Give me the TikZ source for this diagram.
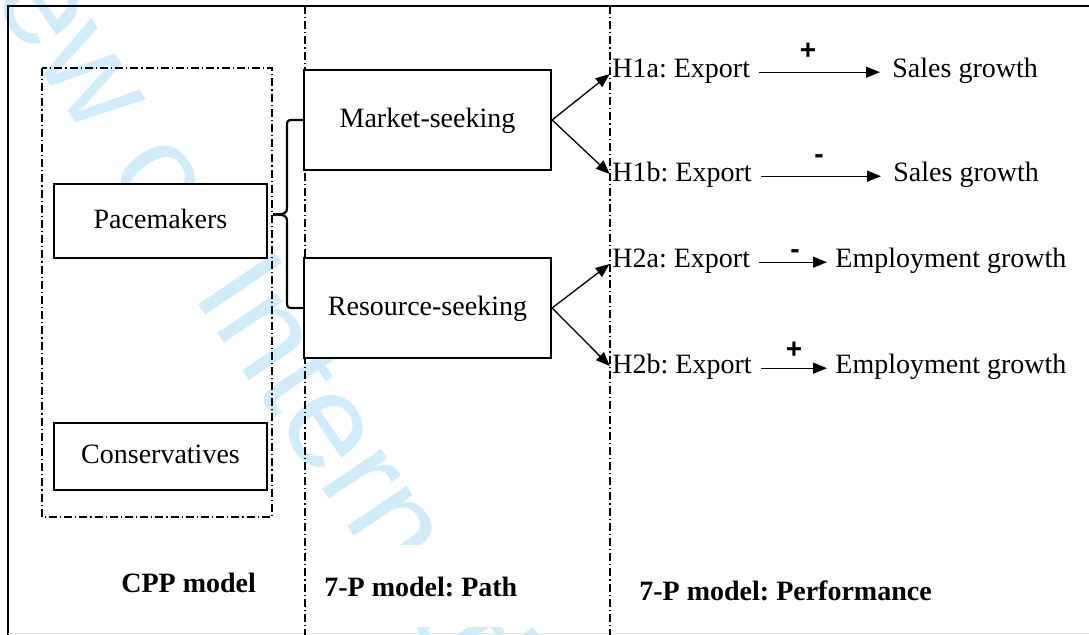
\documentclass[tikz,border=0pt]{standalone}
\usepackage{fontspec}
\setmainfont{Liberation Serif}
\newfontfamily\signfont{Liberation Sans}
\usetikzlibrary{arrows.meta}
\definecolor{wmark}{RGB}{206,236,250}
\frenchspacing
\begin{document}
\frenchspacing
\begin{tikzpicture}[x=0.5pt,y=-0.5pt,
  box/.style={draw, line width=1.1pt, fill=white, inner sep=0pt,
    font=\fontsize{14}{16}\selectfont, text height=0.74em, text depth=0pt},
  lbl/.style={inner sep=0pt, font=\fontsize{14}{16}\selectfont,
    text height=0.8em, text depth=0.22em, anchor=base west},
  sgn/.style={inner sep=0pt, font=\signfont\bfseries\fontsize{14}{16}\selectfont, anchor=base},
  ttl/.style={inner ysep=0pt, inner xsep=7pt, fill=white, text height=26pt, text depth=15pt,
    font=\bfseries\fontsize{14}{16}\selectfont, anchor=base west},
  sep/.style={line width=0.6pt, dash pattern=on 4pt off 1.5pt on 0.6pt off 1.5pt},
  arr/.style={-{Triangle[length=7pt,width=5.5pt]}, line width=0.65pt},
  bracestyle/.style={line width=1.1pt, line join=round},
]
\useasboundingbox (0,0) rectangle (1089,635);
\clip (0,0) rectangle (1089,635);
% watermark
\node[anchor=base west, inner sep=0pt, rotate=-56, text=wmark,
  font=\signfont\fontsize{67.5}{70}\selectfont] (wm) at (-161,-228)
  {Review of International Business and Strategy};
% column titles (white text boxes)
\node[ttl, xshift=-7pt] (t1) at (121,593) {CPP model};
\node[ttl, xshift=-7pt] (t2) at (324,597) {7-P model: Path};
\node[ttl, xshift=-7pt] (t3) at (639,601) {7-P model: Performance};
% frame
\draw[line width=1.2pt] (8,640) -- (8,6) -- (1095,6);
\draw[black!10, line width=0.5pt] (8,634) -- (1089,634);
% column separators
\coordinate (s1t) at (305,6);  \coordinate (s1b) at (305,635);
\coordinate (s2t) at (610,6);  \coordinate (s2b) at (610,635);
\draw[sep] (s1t) -- (s1b);
\draw[sep] (s2t) -- (s2b);
% CPP group
\draw[sep] (42,68) rectangle (272,517);
\node[box, minimum width=106.5pt, minimum height=37pt] (pm) at (160.5,221) {Pacemakers};
\node[box, minimum width=106.5pt, minimum height=33.5pt] (cons) at (160.5,456.5) {Conservatives};
% path boxes
\node[box, minimum width=123.5pt, minimum height=50pt] (ms) at (427.5,120) {Market-seeking};
\node[box, minimum width=123.5pt, minimum height=50pt] (rs) at (427.5,308) {Resource-seeking};
% brace
\coordinate (tip) at (273,214.5);
\draw[bracestyle] (ms.west) -- (292,120) .. controls (288,120) and (287,121) .. (287,125)
  -- (287,208) .. controls (287,213) and (285,214.5) .. (tip);
\draw[bracestyle] (rs.west) -- (292,308) .. controls (288,308) and (287,307) .. (287,303)
  -- (287,221) .. controls (287,216) and (285,214.5) .. (tip);
% hypotheses
\node[lbl] (h1a) at (612,78) {H1a: Export};
\node[lbl] (h1b) at (612,182) {H1b: Export};
\node[lbl] (h2a) at (612,268) {H2a: Export};
\node[lbl] (h2b) at (612,374) {H2b: Export};
\node[lbl] (o1a) at (892,78) {Sales growth};
\node[lbl] (o1b) at (893,182) {Sales growth};
\node[lbl] (o2a) at (835,268) {Employment growth};
\node[lbl] (o2b) at (835,374) {Employment growth};
\node[sgn] (p1a) at (808,60) {+};
\node[sgn] (p1b) at (819,164) {-};
\node[sgn] (p2a) at (795,259) {-};
\node[sgn] (p2b) at (794,359) {+};
\draw[arr, shorten <=4.5pt, shorten >=6pt] (h1a.east) -- (h1a.east -| o1a.west);
\draw[arr, shorten <=4.5pt, shorten >=6pt] (h1b.east) -- (h1b.east -| o1b.west);
\draw[arr, shorten <=4.5pt, shorten >=4pt] (h2a.east) -- (h2a.east -| o2a.west);
\draw[arr, shorten <=4.5pt, shorten >=4pt] (h2b.east) -- (h2b.east -| o2b.west);
\draw[arr, shorten >=1.5pt] (ms.east) -- (h1a.west);
\draw[arr, shorten >=1.5pt] (ms.east) -- (h1b.west);
\draw[arr, shorten >=1.5pt] (rs.east) -- (h2a.west);
\draw[arr, shorten >=1.5pt] (rs.east) -- (h2b.west);
\end{tikzpicture}
\end{document}
